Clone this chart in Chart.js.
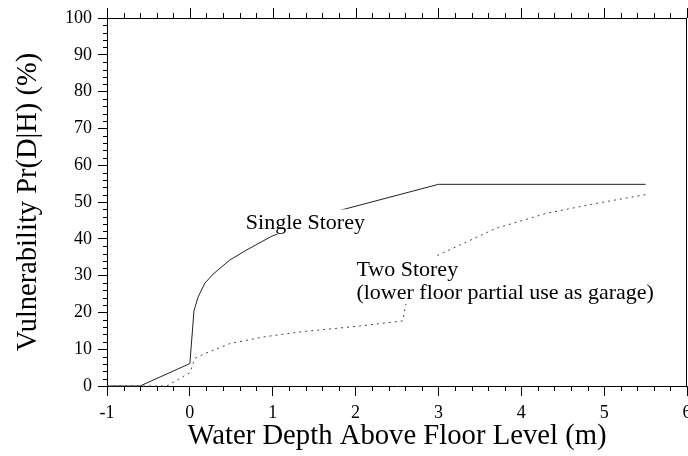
<!DOCTYPE html>
<html><head><meta charset="utf-8">
<script src="https://cdn.jsdelivr.net/npm/chart.js@4"></script>
<style>html,body{margin:0;padding:0;background:#fff;}canvas{display:block;}</style>
</head><body>
<canvas id="c" width="688" height="456"></canvas>
<script>
// ---- data ----
const singleX = [-1, -0.6, 0, 0.05, 0.1, 0.18, 0.28, 0.48, 0.68, 0.98, 1.4, 1.79, 3.0, 5.5];
const singleY = [0, 0, 6.1, 20.5, 24.2, 27.9, 30.4, 34.2, 36.9, 40.6, 44.5, 47.6, 54.8, 54.8];
const twoX = [-1, -0.28, 0, 0.06, 0.18, 0.48, 0.88, 1.33, 2.05, 2.57, 2.62, 2.68, 2.97, 3.69, 4.3, 4.9, 5.5];
const twoY = [0, 0, 3.6, 7.5, 8.8, 11.5, 13.3, 14.7, 16.3, 17.7, 24, 32, 35.3, 42.8, 46.9, 49.6, 52];
const xRange = [-1, 6];
const yRange = [0, 100];
const xMajorStep = 1, xMinorStep = 0.2;
const yMajorStep = 10, yMinorStep = 2;
const xTitle = 'Water Depth Above Floor Level (m)';
const yTitle = 'Vulnerability Pr(D|H) (%)';
const noteSingle = ['Single Storey'];
const noteTwo = ['Two Storey', '(lower floor partial use as garage)'];
const noteSingleAt = [0.675, 42.65];
const noteTwoAt = [2.01, 29.9];

const FONT = "'Liberation Serif', 'Times New Roman', serif";

const pts = (xs, ys) => xs.map((x, i) => ({x: x, y: ys[i]}));

const frameTicks = {
  id: 'frameTicks',
  afterDraw(chart) {
    const {ctx, chartArea: a, scales: {x, y}} = chart;
    ctx.save();
    ctx.strokeStyle = '#000';
    ctx.lineWidth = 1;
    ctx.beginPath();
    ctx.moveTo(a.left, a.top + 0.5); ctx.lineTo(a.right, a.top + 0.5);
    ctx.moveTo(a.right - 0.5, a.top); ctx.lineTo(a.right - 0.5, a.bottom);
    const nx = Math.round((xRange[1] - xRange[0]) / xMinorStep);
    for (let i = 0; i <= nx; i++) {
      const v = xRange[0] + i * xMinorStep;
      const px = Math.round(x.getPixelForValue(v)) + 0.5;
      const major = (i % Math.round(xMajorStep / xMinorStep)) === 0;
      if (!major) { ctx.moveTo(px, a.bottom); ctx.lineTo(px, a.bottom + 5); }
      ctx.moveTo(px, a.top); ctx.lineTo(px, a.top - (major ? 10 : 5));
    }
    const ny = Math.round((yRange[1] - yRange[0]) / yMinorStep);
    for (let i = 0; i <= ny; i++) {
      const v = yRange[0] + i * yMinorStep;
      const py = Math.round(y.getPixelForValue(v)) + 0.5;
      const major = (i % Math.round(yMajorStep / yMinorStep)) === 0;
      if (!major) { ctx.moveTo(a.left, py); ctx.lineTo(a.left - 4, py); }
    }
    ctx.stroke();
    ctx.restore();
  }
};

const notes = {
  id: 'notes',
  afterDatasetsDraw(chart) {
    const {ctx, scales: {x, y}} = chart;
    const size = 22, lh = 23, asc = 0.891 * size, desc = 0.216 * size;
    [[noteSingle, noteSingleAt], [noteTwo, noteTwoAt]].forEach(([lines, at]) => {
      ctx.save();
      ctx.font = size + 'px ' + FONT;
      const px = x.getPixelForValue(at[0]);
      const py = y.getPixelForValue(at[1]);
      let w = 0;
      lines.forEach(l => { w = Math.max(w, ctx.measureText(l).width); });
      ctx.fillStyle = '#fff';
      ctx.fillRect(px - 2, py - asc, w + 4, asc + desc + lh * (lines.length - 1));
      ctx.fillStyle = '#000';
      ctx.textBaseline = 'alphabetic';
      ctx.textAlign = 'left';
      lines.forEach((l, i) => ctx.fillText(l, px, py + i * lh));
      ctx.restore();
    });
  }
};

new Chart(document.getElementById('c'), {
  type: 'line',
  data: {
    datasets: [
      {data: pts(singleX, singleY), borderColor: '#222', borderWidth: 1, pointRadius: 0, fill: false, tension: 0, clip: false},
      {data: pts(twoX, twoY), borderColor: '#444', borderWidth: 1, borderDash: [2, 4], pointRadius: 0, fill: false, tension: 0, clip: false}
    ]
  },
  options: {
    responsive: false,
    animation: false,
    devicePixelRatio: 1,
    layout: {padding: {top: 18, right: 1, left: 0, bottom: 0}},
    plugins: {legend: {display: false}, tooltip: {enabled: false}},
    scales: {
      x: {
        type: 'linear', min: xRange[0], max: xRange[1],
        afterFit(s) { s.height = 70; s.paddingLeft = 0; s.paddingRight = 0; },
        ticks: {stepSize: xMajorStep, autoSkip: false, maxRotation: 0, color: '#000', padding: 6, font: {family: FONT, size: 18}},
        grid: {drawOnChartArea: false, tickLength: 10, color: '#000', tickColor: '#000'},
        border: {color: '#000', width: 1},
        title: {display: true, text: xTitle, color: '#000', font: {family: FONT, size: 28.7}, padding: {top: 0, bottom: 2}}
      },
      y: {
        type: 'linear', min: yRange[0], max: yRange[1],
        afterFit(s) { s.width = 107; s.paddingTop = 0; s.paddingBottom = 0; },
        ticks: {stepSize: yMajorStep, autoSkip: false, color: '#000', padding: 6, font: {family: FONT, size: 18}},
        grid: {drawOnChartArea: false, tickLength: 9, color: '#000', tickColor: '#000'},
        border: {color: '#000', width: 1},
        title: {display: true, text: yTitle, color: '#000', font: {family: FONT, size: 28.5}, padding: {top: 11, bottom: 0}}
      }
    }
  },
  plugins: [frameTicks, notes]
});
</script>
</body></html>
